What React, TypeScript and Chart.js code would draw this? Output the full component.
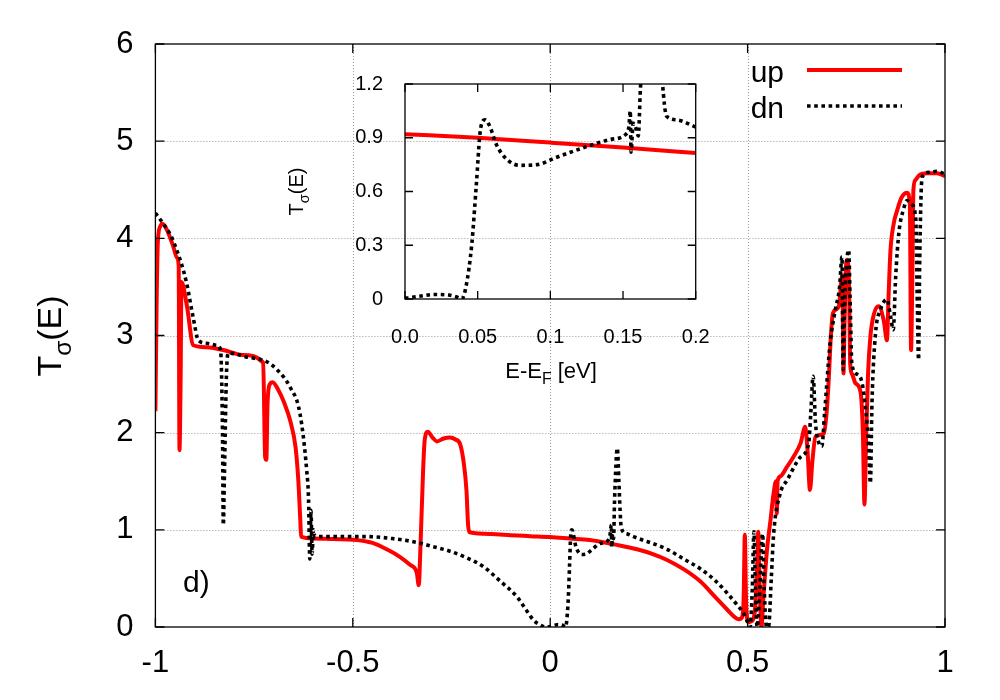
import React, { useEffect, useRef } from "react";
import { Chart, registerables } from "chart.js";
Chart.register(...registerables);

const FONT = "'Liberation Sans', Arial, Helvetica, sans-serif";
const UP_COLOR = "#ff0000";
const DN_COLOR = "#000000";
const UP_WIDTH = 4;
const DN_WIDTH = 3.6;
const DN_DASH = [3.6, 3.6];

const seriesNames = ["up", "dn"];
const mainXTicks = [-1, -0.5, 0, 0.5, 1];
const mainXTickLabels = ["-1", "-0.5", "0", "0.5", "1"];
const mainYTicks = [0, 1, 2, 3, 4, 5, 6];
const mainYTickLabels = ["0", "1", "2", "3", "4", "5", "6"];
const insetXTicks = [0, 0.05, 0.1, 0.15, 0.2];
const insetXTickLabels = ["0.0", "0.05", "0.1", "0.15", "0.2"];
const insetYTicks = [0, 0.3, 0.6, 0.9, 1.2];
const insetYTickLabels = ["0", "0.3", "0.6", "0.9", "1.2"];

// spin-up transmission T_up(E): [E - E_F, T]
const upCurve: [number, number][] = [
  [-1.0, 2.22], [-0.997, 3.3], [-0.994, 3.95], [-0.988, 4.12], [-0.982, 4.15],
  [-0.97, 4.08], [-0.955, 3.92], [-0.945, 3.8], [-0.941, 3.72], [-0.939, 1.82],
  [-0.936, 2.6], [-0.934, 3.55], [-0.92, 3.3], [-0.904, 2.9], [-0.87, 2.88],
  [-0.828, 2.85], [-0.78, 2.8], [-0.727, 2.72], [-0.722, 1.75], [-0.719, 1.72],
  [-0.716, 2.3], [-0.71, 2.5], [-0.703, 2.52], [-0.69, 2.45], [-0.675, 2.32],
  [-0.659, 2.13], [-0.645, 1.85], [-0.638, 1.51], [-0.633, 1.1], [-0.631, 0.93],
  [-0.6, 0.912], [-0.55, 0.905], [-0.498, 0.898], [-0.45, 0.865], [-0.414, 0.8],
  [-0.38, 0.72], [-0.355, 0.64], [-0.338, 0.56], [-0.333, 0.43], [-0.328, 0.9],
  [-0.322, 1.6], [-0.318, 1.92], [-0.31, 2.01], [-0.298, 1.95], [-0.287, 1.91],
  [-0.27, 1.94], [-0.254, 1.95], [-0.24, 1.93], [-0.228, 1.88], [-0.219, 1.69],
  [-0.212, 1.4], [-0.208, 1.05], [-0.204, 0.975], [-0.15, 0.958], [-0.1, 0.945],
  [-0.05, 0.935], [0.0, 0.925], [0.05, 0.91], [0.1, 0.895], [0.169, 0.845],
  [0.22, 0.8], [0.26, 0.75], [0.296, 0.69], [0.34, 0.59], [0.38, 0.47],
  [0.42, 0.3], [0.448, 0.18], [0.468, 0.1], [0.478, 0.08], [0.486, 0.1],
  [0.49, 0.3], [0.493, 0.95], [0.496, 0.3], [0.502, 0.05], [0.51, 0.06],
  [0.518, 0.15], [0.524, 0.6], [0.527, 0.98], [0.53, 0.5], [0.535, 0.0],
  [0.54, 0.3], [0.549, 0.79], [0.558, 1.1], [0.566, 1.38], [0.572, 1.5],
  [0.574, 1.17], [0.576, 1.5], [0.583, 1.55], [0.6, 1.65], [0.616, 1.75],
  [0.634, 1.89], [0.646, 2.06], [0.652, 1.8], [0.658, 1.41], [0.664, 1.7],
  [0.672, 1.96], [0.693, 1.99], [0.7, 2.2], [0.705, 2.51], [0.711, 3.0],
  [0.716, 3.23], [0.731, 3.3], [0.737, 3.55], [0.74, 3.62], [0.743, 2.61],
  [0.745, 3.0], [0.748, 3.6], [0.752, 3.78], [0.757, 3.5], [0.76, 2.7],
  [0.765, 2.6], [0.773, 2.51], [0.786, 2.42], [0.792, 2.0], [0.796, 1.26],
  [0.8, 1.9], [0.805, 2.6], [0.811, 2.99], [0.82, 3.22], [0.832, 3.3],
  [0.845, 3.15], [0.853, 2.95], [0.857, 3.4], [0.862, 3.88], [0.87, 4.15],
  [0.879, 4.29], [0.89, 4.42], [0.904, 4.47], [0.911, 4.35], [0.914, 2.85],
  [0.917, 3.5], [0.92, 4.5], [0.925, 4.6], [0.935, 4.65], [0.955, 4.67],
  [0.98, 4.67], [1.0, 4.64],
];

// spin-down transmission T_dn(E)
const dnCurve: [number, number][] = [
  [-1.0, 4.26], [-0.98, 4.15], [-0.96, 4.02], [-0.946, 3.88], [-0.935, 3.75],
  [-0.921, 3.54], [-0.905, 3.2], [-0.891, 2.95], [-0.87, 2.92], [-0.845, 2.9],
  [-0.835, 2.85], [-0.83, 2.0], [-0.828, 1.05], [-0.825, 1.6], [-0.82, 2.6],
  [-0.815, 2.82], [-0.77, 2.78], [-0.718, 2.73], [-0.69, 2.64], [-0.659, 2.47],
  [-0.634, 2.2], [-0.617, 1.62], [-0.612, 1.3], [-0.609, 0.7], [-0.606, 1.2],
  [-0.603, 0.75], [-0.6, 1.0], [-0.596, 0.93], [-0.549, 0.93], [-0.464, 0.93],
  [-0.4, 0.91], [-0.337, 0.87], [-0.3, 0.83], [-0.254, 0.78], [-0.21, 0.71],
  [-0.169, 0.62], [-0.126, 0.47], [-0.084, 0.31], [-0.06, 0.17], [-0.042, 0.07],
  [-0.02, 0.01], [-0.008, 0.0], [0.009, 0.015], [0.02, 0.025], [0.03, 0.02],
  [0.039, 0.0], [0.042, 0.07], [0.046, 0.31], [0.049, 0.63], [0.052, 0.95],
  [0.055, 1.0], [0.058, 0.97], [0.063, 0.86], [0.07, 0.78], [0.08, 0.746],
  [0.091, 0.75], [0.104, 0.79], [0.127, 0.86], [0.15, 0.91], [0.155, 1.05],
  [0.1555, 0.82], [0.158, 0.96], [0.1605, 0.91], [0.163, 1.3], [0.17, 1.84],
  [0.174, 1.5], [0.177, 1.2], [0.18, 1.02], [0.194, 0.96], [0.211, 0.93],
  [0.296, 0.8], [0.338, 0.7], [0.38, 0.6], [0.42, 0.47], [0.448, 0.35],
  [0.475, 0.22], [0.49, 0.14], [0.5, 0.05], [0.506, 0.0], [0.512, 0.4],
  [0.516, 0.98], [0.52, 0.4], [0.524, 0.0], [0.53, 0.3], [0.538, 0.96],
  [0.542, 0.4], [0.548, 0.0], [0.553, 0.0], [0.56, 0.5], [0.566, 0.96],
  [0.583, 1.38], [0.6, 1.51], [0.634, 1.75], [0.655, 1.9], [0.66, 2.2],
  [0.666, 2.58], [0.672, 2.1], [0.68, 1.9], [0.688, 1.86], [0.695, 2.2],
  [0.709, 2.92], [0.722, 3.26], [0.733, 3.5], [0.739, 3.81], [0.742, 2.65],
  [0.745, 3.2], [0.75, 3.7], [0.756, 3.88], [0.76, 3.3], [0.764, 2.71],
  [0.778, 2.6], [0.79, 2.51], [0.8, 2.2], [0.806, 1.9], [0.811, 1.48],
  [0.815, 2.3], [0.824, 3.02], [0.836, 3.26], [0.853, 3.37], [0.862, 3.2],
  [0.869, 3.06], [0.875, 3.6], [0.883, 4.05], [0.895, 4.3], [0.904, 4.39],
  [0.915, 4.35], [0.926, 4.2], [0.93, 3.3], [0.933, 2.75], [0.936, 3.8],
  [0.942, 4.63], [0.96, 4.68], [0.98, 4.69], [1.0, 4.66],
];

// inset: zoom on 0 .. 0.2 eV
const insetUpCurve: [number, number][] = [
  [0.0, 0.92], [0.05, 0.9], [0.1, 0.873], [0.15, 0.845], [0.2, 0.815],
];
const insetDnCurve: [number, number][] = [
  [0.0, 0.005], [0.01, 0.015], [0.02, 0.025], [0.03, 0.022], [0.036, 0.01],
  [0.039, 0.0], [0.042, 0.07], [0.046, 0.31], [0.049, 0.63], [0.052, 0.95],
  [0.055, 1.0], [0.058, 0.97], [0.063, 0.86], [0.07, 0.78], [0.079, 0.746],
  [0.091, 0.75], [0.104, 0.79], [0.123, 0.845], [0.141, 0.89], [0.152, 0.92],
  [0.154, 0.96], [0.155, 1.05], [0.1555, 0.82], [0.157, 0.98], [0.159, 0.95],
  [0.1605, 0.91], [0.162, 1.18], [0.165, 1.5], [0.17, 1.8], [0.175, 1.5],
  [0.177, 1.22], [0.18, 1.02], [0.187, 1.0], [0.2, 0.96],
];

type Part = { t: string; sub?: boolean };

function drawRich(ctx: CanvasRenderingContext2D, parts: Part[], x: number, y: number, size: number, rotate: boolean) {
  ctx.save();
  ctx.translate(x, y);
  if (rotate) ctx.rotate(-Math.PI / 2);
  ctx.fillStyle = "#000";
  ctx.textBaseline = "alphabetic";
  ctx.textAlign = "left";
  let w = 0;
  parts.forEach((p) => {
    ctx.font = `${p.sub ? size * 0.72 : size}px ${FONT}`;
    w += ctx.measureText(p.t).width;
  });
  let cx = -w / 2;
  parts.forEach((p) => {
    const s = p.sub ? size * 0.72 : size;
    ctx.font = `${s}px ${FONT}`;
    ctx.fillText(p.t, cx, p.sub ? size * 0.28 : 0);
    cx += ctx.measureText(p.t).width;
  });
  ctx.restore();
}

function framePlugin(tickLen: number, showGrid: boolean, extra: (chart: any) => void) {
  return {
    id: "frame",
    beforeDatasetsDraw(chart: any) {
      if (!showGrid) return;
      const { ctx, chartArea: a, scales } = chart;
      ctx.save();
      ctx.strokeStyle = "#9a9a9a";
      ctx.lineWidth = 1;
      ctx.setLineDash([1, 2]);
      scales.x.ticks.forEach((t: any) => {
        const px = Math.round(scales.x.getPixelForValue(t.value)) + 0.5;
        if (px <= a.left + 1 || px >= a.right - 1) return;
        ctx.beginPath();
        ctx.moveTo(px, a.top);
        ctx.lineTo(px, a.bottom);
        ctx.stroke();
      });
      scales.y.ticks.forEach((t: any) => {
        const py = Math.round(scales.y.getPixelForValue(t.value)) + 0.5;
        if (py <= a.top + 1 || py >= a.bottom - 1) return;
        ctx.beginPath();
        ctx.moveTo(a.left, py);
        ctx.lineTo(a.right, py);
        ctx.stroke();
      });
      ctx.restore();
    },
    afterDatasetsDraw(chart: any) {
      const { ctx, chartArea: a, scales } = chart;
      ctx.save();
      ctx.setLineDash([]);
      ctx.strokeStyle = "#000";
      ctx.lineWidth = 1.3;
      ctx.strokeRect(a.left, a.top, a.right - a.left, a.bottom - a.top);
      ctx.beginPath();
      scales.x.ticks.forEach((t: any) => {
        const px = scales.x.getPixelForValue(t.value);
        ctx.moveTo(px, a.bottom);
        ctx.lineTo(px, a.bottom - tickLen);
        ctx.moveTo(px, a.top);
        ctx.lineTo(px, a.top + tickLen);
      });
      scales.y.ticks.forEach((t: any) => {
        const py = scales.y.getPixelForValue(t.value);
        ctx.moveTo(a.left, py);
        ctx.lineTo(a.left + tickLen, py);
        ctx.moveTo(a.right, py);
        ctx.lineTo(a.right - tickLen, py);
      });
      ctx.stroke();
      ctx.restore();
      extra(chart);
    },
  };
}

function makeDatasets(up: [number, number][], dn: [number, number][]) {
  return [
    {
      label: seriesNames[0],
      data: up.map(([x, y]) => ({ x, y })),
      borderColor: UP_COLOR,
      borderWidth: UP_WIDTH,
      pointRadius: 0,
      cubicInterpolationMode: "monotone" as const,
      fill: false,
      order: 2,
    },
    {
      label: seriesNames[1],
      data: dn.map(([x, y]) => ({ x, y })),
      borderColor: DN_COLOR,
      borderWidth: DN_WIDTH,
      borderDash: DN_DASH,
      borderCapStyle: "butt" as const,
      pointRadius: 0,
      cubicInterpolationMode: "monotone" as const,
      fill: false,
      order: 1,
    },
  ];
}

function axis(min: number, max: number, ticks: number[], labels: string[], size: number, pad: number, fit: (s: any) => void) {
  return {
    type: "linear" as const,
    min,
    max,
    afterBuildTicks: (s: any) => {
      s.ticks = ticks.map((v) => ({ value: v }));
    },
    afterFit: fit,
    grid: { display: false, drawTicks: false },
    border: { display: false },
    ticks: {
      autoSkip: false,
      maxRotation: 0,
      padding: pad,
      color: "#000",
      font: { size, family: FONT },
      callback: (_v: any, i: number) => labels[i],
    },
  };
}

export default function App() {
  const mainRef = useRef<HTMLCanvasElement>(null);
  const insetRef = useRef<HTMLCanvasElement>(null);

  useEffect(() => {
    const main = new Chart(mainRef.current as HTMLCanvasElement, {
      type: "line",
      data: { datasets: makeDatasets(upCurve, dnCurve) as any },
      options: {
        responsive: false,
        animation: false,
        devicePixelRatio: 1,
        layout: { padding: { left: 0, top: 44, right: 55, bottom: 0 } },
        plugins: { legend: { display: false }, tooltip: { enabled: false } },
        scales: {
          x: axis(-1, 1, mainXTicks, mainXTickLabels, 31, 18, (s) => { s.height = 73; }),
          y: axis(0, 6, mainYTicks, mainYTickLabels, 31, 22, (s) => { s.width = 155.4; }),
        } as any,
      },
      plugins: [
        framePlugin(9, true, (chart) => {
          const ctx = chart.ctx as CanvasRenderingContext2D;
          drawRich(ctx, [{ t: "T" }, { t: "σ", sub: true }, { t: "(E)" }], 61, 336, 34, true);
          ctx.save();
          ctx.fillStyle = "#000";
          ctx.font = `30px ${FONT}`;
          ctx.textAlign = "left";
          ctx.textBaseline = "alphabetic";
          ctx.fillText("d)", 183, 592);
          ctx.textAlign = "right";
          ctx.fillText(seriesNames[0], 784, 82);
          ctx.fillText(seriesNames[1], 784, 118);
          ctx.lineWidth = UP_WIDTH;
          ctx.strokeStyle = UP_COLOR;
          ctx.beginPath();
          ctx.moveTo(807, 70);
          ctx.lineTo(902, 70);
          ctx.stroke();
          ctx.lineWidth = DN_WIDTH;
          ctx.strokeStyle = DN_COLOR;
          ctx.setLineDash(DN_DASH);
          ctx.lineCap = "butt";
          ctx.beginPath();
          ctx.moveTo(807, 106);
          ctx.lineTo(902, 106);
          ctx.stroke();
          ctx.restore();
        }),
      ],
    });

    const inset = new Chart(insetRef.current as HTMLCanvasElement, {
      type: "line",
      data: { datasets: makeDatasets(insetUpCurve, insetDnCurve) as any },
      options: {
        responsive: false,
        animation: false,
        devicePixelRatio: 1,
        layout: { padding: { left: 280, top: 84, right: 304.3, bottom: 341 } },
        plugins: { legend: { display: false }, tooltip: { enabled: false } },
        scales: {
          x: axis(0, 0.2, insetXTicks, insetXTickLabels, 20, 26, (s) => { s.height = 60; }),
          y: axis(0, 1.2, insetYTicks, insetYTickLabels, 20, 22, (s) => { s.width = 125; }),
        } as any,
      },
      plugins: [
        framePlugin(8, false, (chart) => {
          const ctx = chart.ctx as CanvasRenderingContext2D;
          drawRich(ctx, [{ t: "T" }, { t: "σ", sub: true }, { t: "(E)" }], 303, 191.5, 20, true);
          drawRich(ctx, [{ t: "E-E" }, { t: "F", sub: true }, { t: " [eV]" }], 551, 378, 22, false);
        }),
      ],
    });

    return () => {
      main.destroy();
      inset.destroy();
    };
  }, []);

  return (
    <div style={{ position: "absolute", left: 0, top: 0, width: 1000, height: 700, background: "#fff" }}>
      <canvas ref={mainRef} width={1000} height={700} style={{ position: "absolute", left: 0, top: 0, display: "block" }} />
      <canvas ref={insetRef} width={1000} height={700} style={{ position: "absolute", left: 0, top: 0, display: "block" }} />
    </div>
  );
}
